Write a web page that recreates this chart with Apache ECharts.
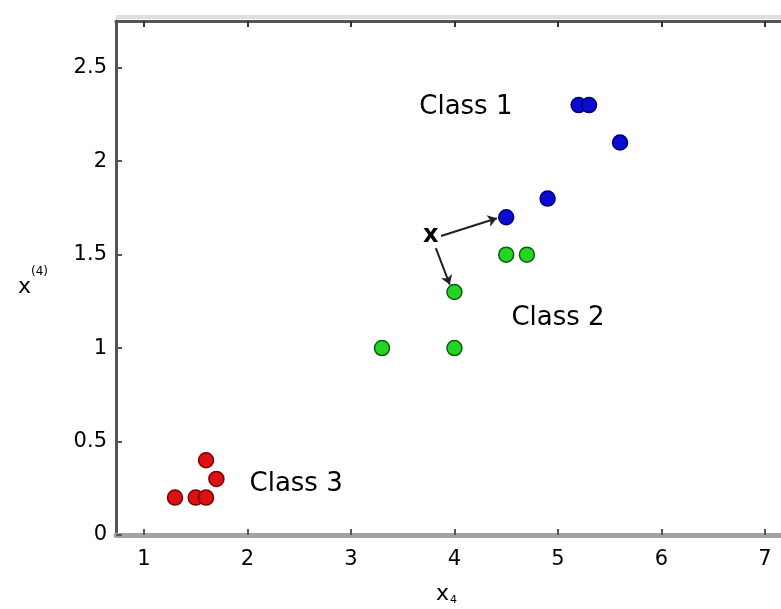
<!DOCTYPE html>
<html><head><meta charset="utf-8">
<script src="https://cdn.jsdelivr.net/npm/echarts@6/dist/echarts.min.js"></script>
<style>html,body{margin:0;padding:0;background:#fff}#c{width:781px;height:609px}</style>
</head><body><div id="c"></div>
<script>
const class1 = [[5.2,2.3],[5.3,2.3],[5.6,2.1],[4.9,1.8],[4.5,1.7]];
const class2 = [[4.5,1.5],[4.7,1.5],[4.0,1.3],[3.3,1.0],[4.0,1.0]];
const class3 = [[1.3,0.2],[1.5,0.2],[1.6,0.2],[1.6,0.4],[1.7,0.3]];
const queryPoint = [3.77,1.6];
const arrowLines = [[[3.87,1.6],[4.41,1.695]],[[3.82,1.535],[3.955,1.34]]];
const classLabels = [["Class 1",3.66,2.29],["Class 2",4.55,1.16],["Class 3",2.02,0.27]];
const xTicks = [1,2,3,4,5,6,7];
const yTicks = [0,0.5,1,1.5,2,2.5];
const xRange = [0.73, 7.155];
const yRange = [0, 2.75];

const chart = echarts.init(document.getElementById('c'), null, {renderer:'canvas'});
const FONT = 'DejaVu Sans';
function pts(color, border){
  return {symbol:'circle', symbolSize:15, itemStyle:{color:color, borderColor:border, borderWidth:1.5, opacity:1}};
}
chart.setOption({
  animation:false,
  backgroundColor:'#fff',
  textStyle:{fontFamily:FONT},
  graphic:[
    {type:'rect', shape:{x:116,y:15,width:700,height:4}, style:{fill:'#dedede'}, z:0},
    {type:'text', left:18, top:266, style:{
      text:'{b|x}{s|(4)}', rich:{b:{fontSize:22,fontFamily:FONT,fill:'#000',padding:[10,0,0,0]},s:{fontSize:12,fontFamily:FONT,fill:'#000',verticalAlign:'top'}}
    }},
    {type:'text', left:436, top:583, style:{
      text:'{b|x}{s|4}', rich:{b:{fontSize:22,fontFamily:FONT,fill:'#000'},s:{fontSize:11,fontFamily:FONT,fill:'#000',padding:[12,0,0,1]}}
    }}
  ],
  grid:{left:116, top:21, right:0, height:514, containLabel:false},
  xAxis:[{
    type:'value', position:'bottom', min:xRange[0], max:xRange[1],
    axisLine:{show:true, onZero:false, lineStyle:{color:'#a3a3a3', width:5}},
    axisTick:{show:true, inside:true, length:6, customValues:xTicks, lineStyle:{color:'#555', width:2}},
    axisLabel:{show:true, customValues:xTicks, fontSize:21, margin:14, color:'#000', fontFamily:FONT},
    splitLine:{show:false}
  },{
    type:'value', position:'top', min:xRange[0], max:xRange[1],
    axisLine:{show:true, onZero:false, lineStyle:{color:'#555', width:3}},
    axisTick:{show:true, inside:true, length:6, customValues:xTicks, lineStyle:{color:'#333', width:2}},
    axisLabel:{show:false},
    splitLine:{show:false}
  }],
  yAxis:[{
    type:'value', min:yRange[0], max:yRange[1],
    axisLine:{show:true, onZero:false, lineStyle:{color:'#555', width:3}},
    axisTick:{show:true, inside:true, length:6, customValues:yTicks, lineStyle:{color:'#555', width:2}},
    axisLabel:{show:true, customValues:yTicks, fontSize:21, margin:9, color:'#000', fontFamily:FONT, formatter:v=>String(v)},
    splitLine:{show:false}
  }],
  series:[
    Object.assign({type:'scatter', data:class1, z:5}, pts('#0b0bd2','#00006e')),
    Object.assign({type:'scatter', data:class2, z:5}, pts('#25d425','#0b5e0b')),
    Object.assign({type:'scatter', data:class3, z:5}, pts('#dd1111','#7a0000')),
    {type:'scatter', symbolSize:0, z:6, itemStyle:{opacity:1},
     data:classLabels.map(d=>({name:d[0], value:[d[1],d[2]]})),
     label:{show:true, position:'right', distance:0, formatter:p=>p.name, fontSize:26, color:'#000', fontFamily:FONT}},
    {type:'scatter', symbolSize:0, z:6, itemStyle:{opacity:1},
     data:[{name:'x', value:queryPoint}],
     label:{show:true, position:'inside', formatter:'x', fontSize:24, fontWeight:'bold', color:'#000', fontFamily:FONT}},
    {type:'lines', coordinateSystem:'cartesian2d', z:4,
     symbol:['none','arrow'], symbolSize:9,
     lineStyle:{color:'#222', width:2, opacity:1},
     data:arrowLines.map(c=>({coords:c}))}
  ]
});
</script></body></html>
